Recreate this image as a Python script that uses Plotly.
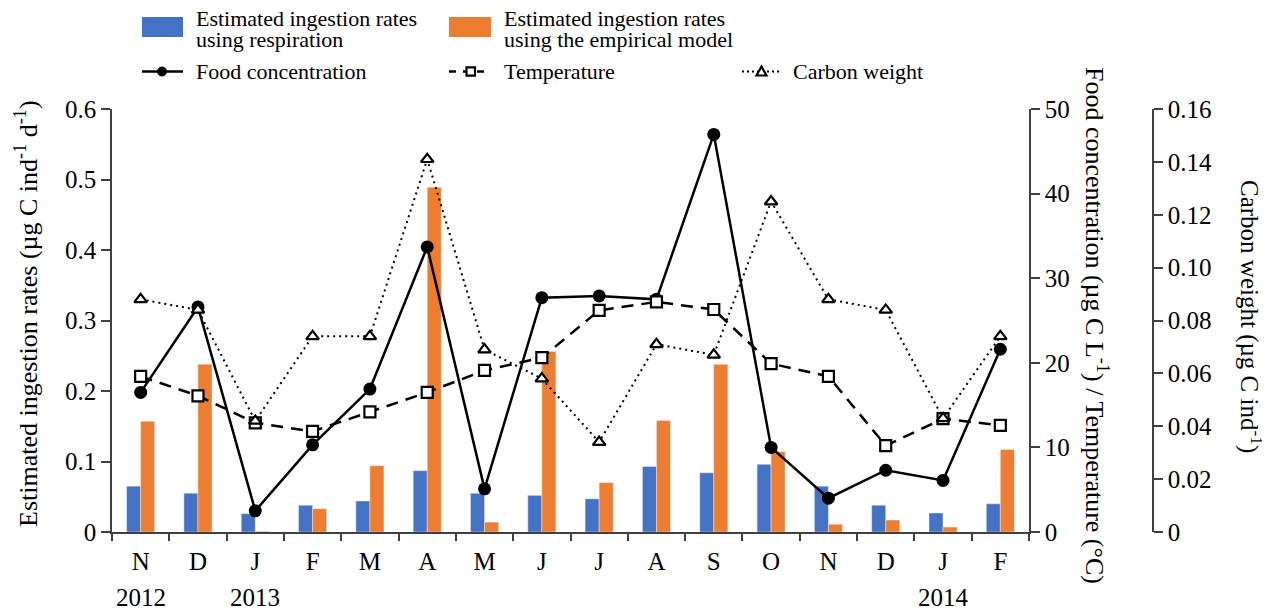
import plotly.graph_objects as go

# Monthly sampling, Nov 2012 - Feb 2014
months = ["N", "D", "J", "F", "M", "A", "M", "J", "J", "A", "S", "O", "N", "D", "J", "F"]
years = {0: "2012", 2: "2013", 14: "2014"}

# Estimated ingestion rates (µg C ind-1 d-1)
ingest_respiration = [0.065, 0.055, 0.026, 0.038, 0.044, 0.087, 0.055, 0.052,
                      0.047, 0.093, 0.084, 0.096, 0.065, 0.038, 0.027, 0.040]
ingest_empirical = [0.157, 0.238, 0.001, 0.033, 0.094, 0.489, 0.014, 0.256,
                    0.070, 0.158, 0.238, 0.114, 0.011, 0.017, 0.007, 0.117]

# Food concentration (µg C L-1) and temperature (°C)
food_conc = [16.5, 26.6, 2.5, 10.3, 16.9, 33.7, 5.1, 27.7,
             27.9, 27.5, 47.0, 10.0, 4.0, 7.3, 6.1, 21.6]
temperature = [18.4, 16.1, 12.9, 11.9, 14.2, 16.5, 19.1, 20.6,
               26.2, 27.2, 26.3, 19.9, 18.4, 10.2, 13.4, 12.6]

# Carbon weight (µg C ind-1)
carbon_weight = [0.088, 0.084, 0.042, 0.074, 0.074, 0.141, 0.069, 0.058,
                 0.034, 0.071, 0.067, 0.125, 0.088, 0.084, 0.043, 0.074]

BLUE = "#4472C4"
ORANGE = "#ED7D31"
AX = "#404040"
FONT = "Liberation Serif, Times New Roman, serif"
W, H = 1279, 614

x = list(range(len(months)))


def px(v):
    return v / W


def py(v):
    return 1 - v / H


fig = go.Figure()

fig.add_trace(go.Bar(x=x, y=ingest_respiration, marker_color=BLUE,
                     name="Estimated ingestion rates using respiration"))
fig.add_trace(go.Bar(x=x, y=ingest_empirical, marker_color=ORANGE,
                     name="Estimated ingestion rates using the empirical model"))

fig.add_trace(go.Scatter(x=x, y=food_conc, yaxis="y2", mode="lines+markers",
                         name="Food concentration",
                         line=dict(color="black", width=2.5),
                         marker=dict(symbol="circle", size=13, color="black")))
fig.add_trace(go.Scatter(x=x, y=temperature, yaxis="y2", mode="lines+markers",
                         name="Temperature",
                         line=dict(color="black", width=2.5, dash="12px,8px"),
                         marker=dict(symbol="square", size=11, color="white",
                                     line=dict(color="black", width=2.2))))
fig.add_trace(go.Scatter(x=x, y=carbon_weight, yaxis="y3", mode="lines+markers",
                         name="Carbon weight",
                         line=dict(color="black", width=2, dash="2px,4px"),
                         marker=dict(symbol="triangle-up", size=11, color="white",
                                     line=dict(color="black", width=2.2))))

tick_font = dict(family=FONT, size=25, color="black")

fig.update_layout(
    width=W, height=H,
    margin=dict(l=0, r=0, t=0, b=0, pad=0, autoexpand=False),
    paper_bgcolor="white", plot_bgcolor="white",
    showlegend=False,
    barmode="group", bargap=0.51, bargroupgap=0,
    font=dict(family=FONT, color="black"),
    xaxis=dict(
        domain=[px(112), px(1029)],
        range=[-0.5, len(months) - 0.5],
        tickmode="array", tickvals=x, ticktext=months,
        ticks="", ticklabelstandoff=6,
        tickfont=tick_font, automargin=False,
        showline=True, linecolor=AX, linewidth=1.5,
        showgrid=False, zeroline=False,
        minor=dict(tickmode="array",
                   tickvals=[i - 0.5 for i in range(len(months) + 1)],
                   ticks="outside", ticklen=7, tickcolor=AX, tickwidth=1.5),
    ),
    yaxis=dict(
        domain=[py(532), py(109)],
        range=[0, 0.6], dtick=0.1, tick0=0,
        ticks="outside", ticklen=9, tickcolor=AX, tickwidth=1.5,
        tickfont=tick_font, automargin=False,
        showline=True, linecolor=AX, linewidth=1.5,
        showgrid=False, zeroline=False,
    ),
    yaxis2=dict(
        overlaying="y", side="right", anchor="x",
        range=[0, 50], dtick=10, tick0=0,
        ticks="outside", ticklen=9, tickcolor=AX, tickwidth=1.5,
        tickfont=tick_font, automargin=False,
        showline=True, linecolor=AX, linewidth=1.5,
        showgrid=False, zeroline=False,
    ),
    yaxis3=dict(
        overlaying="y", side="right", anchor="free", position=px(1153),
        range=[0, 0.16],
        tickmode="array",
        tickvals=[0, 0.02, 0.04, 0.06, 0.08, 0.10, 0.12, 0.14, 0.16],
        ticktext=["0", "0.02", "0.04", "0.06", "0.08", "0.10", "0.12", "0.14", "0.16"],
        ticks="outside", ticklen=9, tickcolor=AX, tickwidth=1.5,
        tickfont=tick_font, automargin=False,
        showline=True, linecolor=AX, linewidth=1.5,
        showgrid=False, zeroline=False,
    ),
)

annotations = []
title_font = dict(family=FONT, size=26, color="black")

# Axis titles
annotations.append(dict(
    text="Estimated ingestion rates (µg C ind<sup>-1</sup> d<sup>-1</sup>)",
    xref="paper", yref="paper", x=px(26), y=py(314), textangle=-90,
    showarrow=False, font=title_font, xanchor="center", yanchor="middle"))
annotations.append(dict(
    text="Food concentration (µg C L<sup>-1</sup>) / Temperature (°C)",
    xref="paper", yref="paper", x=px(1097), y=py(325), textangle=90,
    showarrow=False, font=title_font, xanchor="center", yanchor="middle"))
annotations.append(dict(
    text="Carbon weight (µg C ind<sup>-1</sup>)",
    xref="paper", yref="paper", x=px(1251), y=py(316), textangle=90,
    showarrow=False, font=dict(family=FONT, size=25, color="black"),
    xanchor="center", yanchor="middle"))

# Year labels under the months
for idx, yr in years.items():
    annotations.append(dict(text=yr, xref="x", yref="paper", x=idx, y=py(597),
                            showarrow=False, font=tick_font,
                            xanchor="center", yanchor="middle"))

# Legend
leg_font = dict(family=FONT, size=22, color="black")
shapes = []


def leg_text(txt, x0, yc):
    annotations.append(dict(text=txt, xref="paper", yref="paper", x=px(x0), y=py(yc),
                            showarrow=False, font=leg_font,
                            xanchor="left", yanchor="middle"))


for color, x0, x1, lines, tx in [
    (BLUE, 142, 183, ["Estimated ingestion rates", "using respiration"], 194),
    (ORANGE, 449, 491, ["Estimated ingestion rates", "using the empirical model"], 502),
]:
    shapes.append(dict(type="rect", xref="paper", yref="paper",
                       x0=px(x0), x1=px(x1), y0=py(37), y1=py(17),
                       fillcolor=color, line=dict(width=0)))
    leg_text(lines[0], tx, 18)
    leg_text(lines[1], tx, 39)

row2 = 71.5
# Food concentration: solid line with filled circle
shapes.append(dict(type="line", xref="paper", yref="paper",
                   x0=px(142), x1=px(183), y0=py(row2), y1=py(row2),
                   line=dict(color="black", width=2.5)))
shapes.append(dict(type="circle", xref="paper", yref="paper",
                   x0=px(157.5), x1=px(166.5), y0=py(row2 + 4.5), y1=py(row2 - 4.5),
                   fillcolor="black", line=dict(color="black", width=1)))
leg_text("Food concentration", 194, row2)

# Temperature: dashed line with open square
shapes.append(dict(type="line", xref="paper", yref="paper",
                   x0=px(449), x1=px(491), y0=py(row2), y1=py(row2),
                   line=dict(color="black", width=2.5, dash="7px,7px")))
shapes.append(dict(type="rect", xref="paper", yref="paper",
                   x0=px(466.5), x1=px(475), y0=py(row2 + 4.2), y1=py(row2 - 4.2),
                   fillcolor="white", line=dict(color="black", width=2.2)))
leg_text("Temperature", 502, row2)

# Carbon weight: dotted line with open triangle
shapes.append(dict(type="line", xref="paper", yref="paper",
                   x0=px(742), x1=px(780), y0=py(row2), y1=py(row2),
                   line=dict(color="black", width=2, dash="2px,3px")))
tri = [(761.5, row2 - 5), (756.5, row2 + 4), (766.5, row2 + 4)]
shapes.append(dict(type="path", xref="paper", yref="paper",
                   path="M {} {} L {} {} L {} {} Z".format(
                       px(tri[0][0]), py(tri[0][1]), px(tri[1][0]), py(tri[1][1]),
                       px(tri[2][0]), py(tri[2][1])),
                   fillcolor="white", line=dict(color="black", width=2.2)))
leg_text("Carbon weight", 791, row2)

fig.update_layout(annotations=annotations, shapes=shapes)

fig.write_html("out.html")
